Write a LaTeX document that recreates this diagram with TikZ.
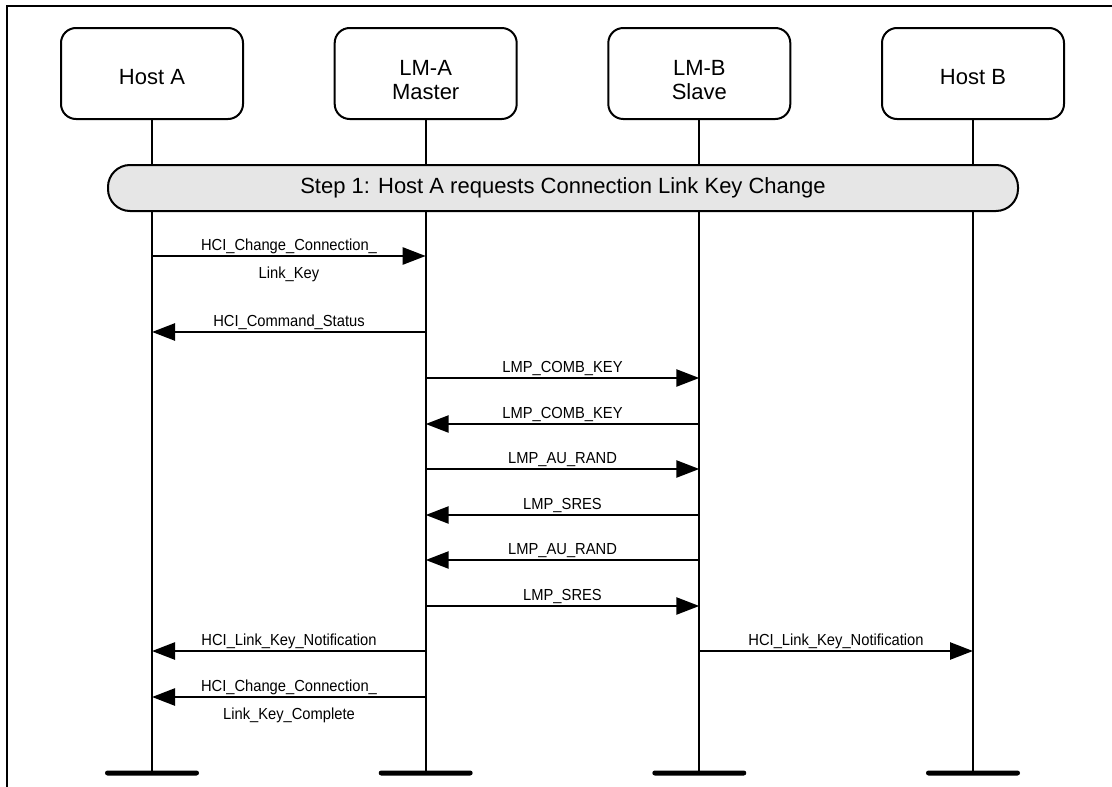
\documentclass[tikz,border=0pt]{standalone}
\usepackage{fontspec}
\setmainfont{Liberation Sans}
\newfontfamily\lblfont[FakeStretch=0.92]{Liberation Sans}
\usetikzlibrary{arrows.meta}
\definecolor{bannergray}{RGB}{230,230,230}
\tikzset{
  frameline/.style={line width=2pt, line cap=rect},
  entity/.style={draw, line width=2pt, rounded corners=15pt, minimum width=182pt, minimum height=91pt, inner sep=0pt},
  entitytext/.style={align=center, inner sep=0pt, font=\fontsize{22}{24.5}\selectfont},
  banner/.style={draw, line width=2pt, fill=bannergray, rounded corners=22pt, minimum width=910pt, minimum height=46pt, inner sep=0pt, font=\fontsize{22}{25}\selectfont},
  lifeline/.style={line width=2pt},
  endbar/.style={fill=black, minimum width=94pt, minimum height=5pt, inner sep=0pt, rounded corners=2.5pt},
  msg/.style={line width=2.5pt, -{Triangle[length=23pt,width=17pt]}},
  lbl/.style={font=\lblfont\fontsize{16}{19}\selectfont, anchor=base, inner sep=0pt},
}
\begin{document}
\begin{tikzpicture}[x=1pt,y=-1pt]
\useasboundingbox (0,0) rectangle (1112,787);
\draw[frameline] (7,787) -- (7,6) -- (1112,6);

% entities
\node[entity] (hA) at (152,73.5) {};
\node[entity] (lA) at (425.7,73.5) {};
\node[entity] (lB) at (699.3,73.5) {};
\node[entity] (hB) at (973,73.5) {};
\node[entitytext] (hAt) at (152,77) {Host A};
\node[entitytext] (lAt) at (425.7,80) {LM-A\\Master};
\node[entitytext] (lBt) at (699.3,80) {LM-B\\Slave};
\node[entitytext] (hBt) at (973,77) {Host B};

% end bars
\node[endbar] (bhA) at (152,773) {};
\node[endbar] (blA) at (425.7,773) {};
\node[endbar] (blB) at (699.3,773) {};
\node[endbar] (bhB) at (973,773) {};

% lifelines
\draw[lifeline] (hA.south) -- (bhA.center);
\draw[lifeline] (lA.south) -- (blA.center);
\draw[lifeline] (lB.south) -- (blB.center);
\draw[lifeline] (hB.south) -- (bhB.center);

% step banner
\node[banner] (step) at (563,188) {Step 1: Host A requests Connection Link Key Change};

% message anchor points
\foreach \n/\y in {1/256,2/332,3/378,4/424,5/469,6/515,7/560,8/606,9/651,10/697}{
  \coordinate (A\n) at (152,\y);
  \coordinate (M\n) at (425.7,\y);
  \coordinate (S\n) at (699.3,\y);
  \coordinate (B\n) at (973,\y);
}

% messages
\draw[msg] (A1) -- (M1);
\node[lbl] (t1a) at (289,250.5) {HCI\_Change\_Connection\_};
\node[lbl] (t1b) at (289,278.5) {Link\_Key};

\draw[msg] (M2) -- (A2);
\node[lbl] (t2) at (289,326.5) {HCI\_Command\_Status};

\draw[msg] (M3) -- (S3);
\node[lbl] (t3) at (562.5,372.5) {LMP\_COMB\_KEY};

\draw[msg] (S4) -- (M4);
\node[lbl] (t4) at (562.5,418.5) {LMP\_COMB\_KEY};

\draw[msg] (M5) -- (S5);
\node[lbl] (t5) at (562.5,463.5) {LMP\_AU\_RAND};

\draw[msg] (S6) -- (M6);
\node[lbl] (t6) at (562.5,509.5) {LMP\_SRES};

\draw[msg] (S7) -- (M7);
\node[lbl] (t7) at (562.5,554.5) {LMP\_AU\_RAND};

\draw[msg] (M8) -- (S8);
\node[lbl] (t8) at (562.5,600.5) {LMP\_SRES};

\draw[msg] (M9) -- (A9);
\node[lbl] (t9a) at (289,645.5) {HCI\_Link\_Key\_Notification};
\draw[msg] (S9) -- (B9);
\node[lbl] (t9b) at (836,645.5) {HCI\_Link\_Key\_Notification};

\draw[msg] (M10) -- (A10);
\node[lbl] (t10a) at (289,691.5) {HCI\_Change\_Connection\_};
\node[lbl] (t10b) at (289,719.5) {Link\_Key\_Complete};
\end{tikzpicture}
\end{document}
